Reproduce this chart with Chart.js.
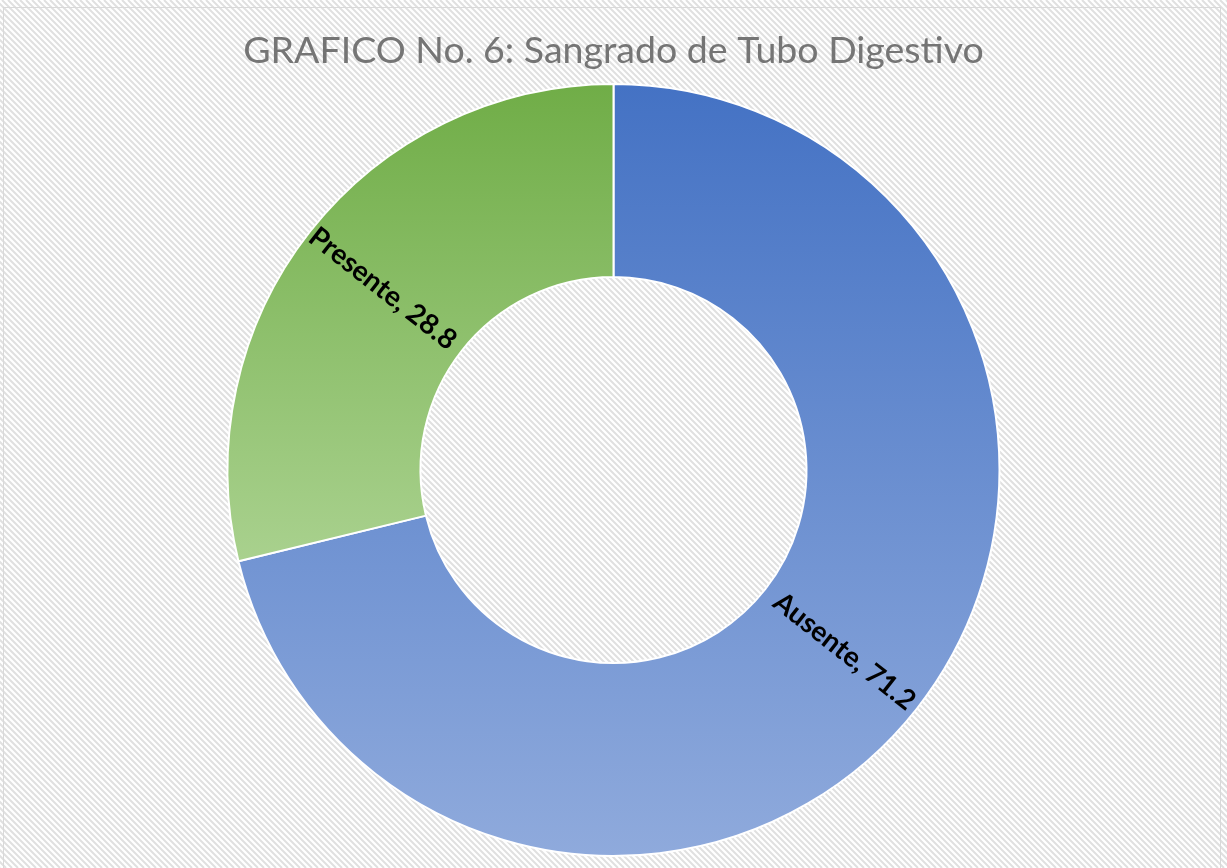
<!DOCTYPE html>
<html>
<head>
<meta charset="utf-8">
<script src="https://cdn.jsdelivr.net/npm/chart.js@4/dist/chart.umd.min.js"></script>
<style>
html, body { margin: 0; padding: 0; background: #fff; }
</style>
</head>
<body>
<canvas id="myChart" width="1227" height="868"></canvas>
<script>
const categories = ['Ausente', 'Presente'];
const percentages = [71.2, 28.8];
const topColors = ['#4472C4', '#70AD47'];
const bottomColors = ['#8FAADC', '#A9D18E'];
const chartTitle = 'GRAFICO No. 6: Sangrado de Tubo Digestivo';

// y extent of an arc element, sampled along its inner and outer edges
function arcYRange(a) {
    let min = Infinity, max = -Infinity;
    const steps = 120;
    for (let i = 0; i <= steps; i++) {
        const t = a.startAngle + (a.endAngle - a.startAngle) * i / steps;
        for (const r of [a.innerRadius, a.outerRadius]) {
            const y = a.y + r * Math.sin(t);
            min = Math.min(min, y);
            max = Math.max(max, y);
        }
    }
    return [min, max];
}

const hatchBackground = {
    id: 'hatchBackground',
    beforeDraw(chart) {
        const ctx = chart.ctx;
        const w = chart.width, h = chart.height;
        ctx.save();
        ctx.fillStyle = '#ffffff';
        ctx.fillRect(0, 0, w, h);
        ctx.strokeStyle = '#e0e0e0';
        ctx.lineWidth = 2;
        ctx.beginPath();
        for (let k = -h; k < w; k += 6) {
            ctx.moveTo(k, 0);
            ctx.lineTo(k + h, h);
        }
        ctx.stroke();
        ctx.strokeStyle = '#d9d9d9';
        ctx.lineWidth = 1;
        ctx.strokeRect(3.5, 7.5, 1217, 900);
        ctx.restore();
    }
};

const sliceGradients = {
    id: 'sliceGradients',
    beforeDatasetsDraw(chart) {
        const ctx = chart.ctx;
        chart.getDatasetMeta(0).data.forEach((arc, i) => {
            const [y0, y1] = arcYRange(arc);
            const g = ctx.createLinearGradient(0, y0, 0, y1);
            g.addColorStop(0, topColors[i]);
            g.addColorStop(1, bottomColors[i]);
            arc.options = { ...arc.options, backgroundColor: g };
        });
    }
};

const sliceLabels = {
    id: 'sliceLabels',
    afterDatasetsDraw(chart) {
        const ctx = chart.ctx;
        chart.getDatasetMeta(0).data.forEach((arc, i) => {
            const mid = (arc.startAngle + arc.endAngle) / 2;
            const r = (arc.innerRadius + arc.outerRadius) / 2 + 4;
            const x = arc.x + r * Math.cos(mid);
            const y = arc.y + r * Math.sin(mid);
            let rot = mid;
            while (rot > Math.PI / 2) rot -= Math.PI;
            while (rot < -Math.PI / 2) rot += Math.PI;
            ctx.save();
            ctx.translate(x, y);
            ctx.rotate(rot);
            ctx.font = 'bold 28px Lato';
            ctx.fillStyle = '#000000';
            ctx.textAlign = 'center';
            ctx.textBaseline = 'middle';
            ctx.fillText(categories[i] + ', ' + percentages[i], 0, 0);
            ctx.restore();
        });
    }
};

new Chart(document.getElementById('myChart'), {
    type: 'doughnut',
    data: {
        labels: categories,
        datasets: [{
            data: percentages,
            backgroundColor: topColors,
            borderColor: '#ffffff',
            borderWidth: 2
        }]
    },
    options: {
        responsive: false,
        animation: false,
        cutout: '50%',
        layout: { padding: { bottom: 11 } },
        plugins: {
            legend: { display: false },
            tooltip: { enabled: false },
            title: {
                display: true,
                text: chartTitle,
                color: '#757575',
                font: { family: 'Lato', size: 37.5, weight: 'normal' },
                padding: { top: 28, bottom: 10 }
            }
        }
    },
    plugins: [hatchBackground, sliceGradients, sliceLabels]
});
</script>
</body>
</html>
